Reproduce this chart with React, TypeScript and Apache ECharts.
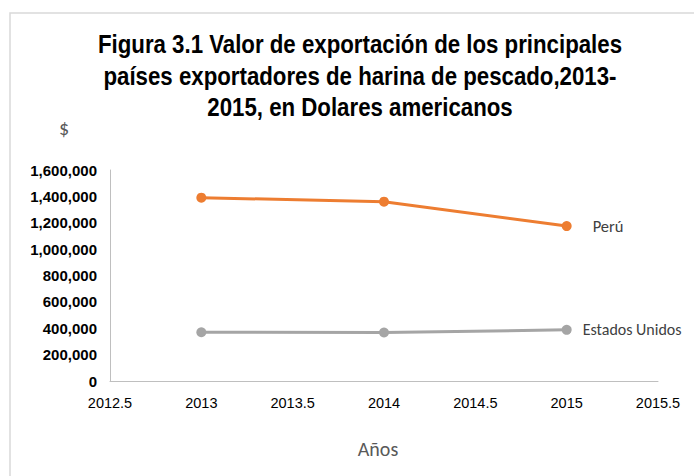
import React, { useEffect, useRef } from "react";
import * as echarts from "echarts";

const years = [2013, 2014, 2015];
const peru = [1390000, 1360000, 1175000];
const usa = [370000, 368000, 388000];
const seriesNames = ["Perú", "Estados Unidos"];
const titleText =
  "Figura 3.1 Valor de exportación de los principales\npaíses exportadores de harina de pescado,2013-\n2015, en Dolares americanos";

const narrow = "'Liberation Sans Narrow', 'Arial Narrow', 'Liberation Sans', sans-serif";
const calibri = "Carlito, 'Open Sans', 'Noto Sans', sans-serif";

export default function App() {
  const ref = useRef<HTMLDivElement>(null);
  useEffect(() => {
    if (!ref.current) return;
    const chart = echarts.init(ref.current, undefined, { renderer: "svg" });
    chart.setOption({
      animation: false,
      backgroundColor: "#ffffff",
      graphic: [
        {
          type: "rect",
          shape: { x: 10, y: 13, width: 700, height: 480 },
          style: { fill: "none", stroke: "#d9d9d9", lineWidth: 1.5 },
          silent: true,
        },
        {
          type: "text",
          x: 360,
          y: 29,
          scaleX: 0.89,
          style: {
            text: titleText,
            x: 0,
            y: 0,
            align: "center",
            verticalAlign: "top",
            fontFamily: narrow,
            fontWeight: "bold",
            fontSize: 25,
            lineHeight: 31.5,
            fill: "#000000",
          },
        },
        {
          type: "text",
          x: 64,
          y: 128,
          style: {
            text: "$",
            align: "center",
            verticalAlign: "middle",
            fontFamily: calibri,
            fontSize: 20,
            fill: "#595959",
          },
        },
      ],
      grid: { left: 110, top: 170, right: 36, bottom: 95, containLabel: false },
      xAxis: {
        type: "value",
        min: 2012.5,
        max: 2015.5,
        interval: 0.5,
        name: "Años",
        nameLocation: "middle",
        nameGap: 58,
        nameTextStyle: {
          fontFamily: calibri,
          fontSize: 20,
          color: "#595959",
          padding: [0, 12, 0, 0],
        },
        axisLine: { show: true, lineStyle: { color: "#bfbfbf", width: 1 } },
        axisTick: { show: false },
        splitLine: { show: false },
        axisLabel: {
          fontFamily: narrow,
          fontSize: 14.5,
          color: "#000000",
          margin: 14,
          formatter: (v: number) => String(v),
        },
      },
      yAxis: {
        type: "value",
        min: 0,
        max: 1600000,
        interval: 200000,
        axisLine: { show: true, lineStyle: { color: "#bfbfbf", width: 1 } },
        axisTick: { show: false },
        splitLine: { show: false },
        axisLabel: {
          fontFamily: narrow,
          fontSize: 15,
          fontWeight: "bold",
          color: "#000000",
          margin: 13,
          formatter: (v: number) => v.toLocaleString("en-US"),
        },
      },
      series: [
        {
          name: seriesNames[0],
          type: "line",
          data: years.map((y, i) => [y, peru[i]]),
          color: "#ed7d31",
          lineStyle: { width: 3 },
          symbol: "circle",
          symbolSize: 10,
          endLabel: {
            show: true,
            formatter: "{a}",
            distance: 26,
            fontFamily: calibri,
            fontSize: 16.5,
            color: "#404040",
          },
        },
        {
          name: seriesNames[1],
          type: "line",
          data: years.map((y, i) => [y, usa[i]]),
          color: "#a5a5a5",
          lineStyle: { width: 3 },
          symbol: "circle",
          symbolSize: 10,
          endLabel: {
            show: true,
            formatter: "{a}",
            distance: 16,
            fontFamily: calibri,
            fontSize: 16,
            color: "#404040",
          },
        },
      ],
    });
    return () => chart.dispose();
  }, []);
  return <div ref={ref} style={{ width: 694, height: 476, position: "absolute", left: 0, top: 0 }} />;
}
